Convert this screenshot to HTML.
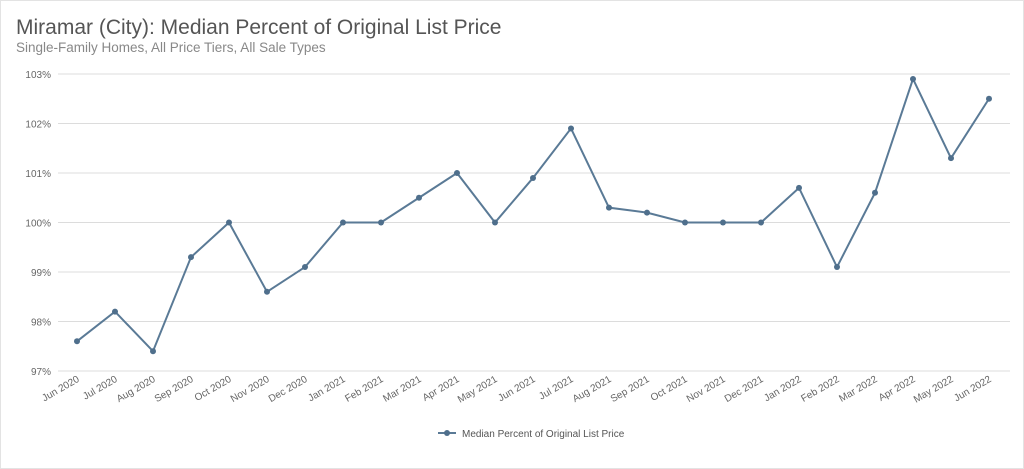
<!DOCTYPE html>
<html><head><meta charset="utf-8"><style>
body{margin:0;background:#fff;font-family:"Liberation Sans",sans-serif}
svg{display:block}
</style></head><body>
<svg id="c" width="1024" height="469">
<rect x="0.5" y="0.5" width="1023" height="468" fill="#fff" stroke="#e3e3e3"/>
<text x="16" y="34" font-size="21" fill="#555">Miramar (City): Median Percent of Original List Price</text>
<text x="16" y="52" font-size="13.5" fill="#888">Single-Family Homes, All Price Tiers, All Sale Types</text>
<g id="grid"></g><g id="xl"></g><g id="ser"></g>
<g>
<line x1="438" y1="433" x2="456" y2="433" stroke="#5a7a96" stroke-width="2"/>
<circle cx="447" cy="433" r="3" fill="#4f6f8c"/>
<text x="462" y="437" font-size="10" fill="#555">Median Percent of Original List Price</text>
</g>
</svg>
<script>
const categories=["Jun 2020","Jul 2020","Aug 2020","Sep 2020","Oct 2020","Nov 2020","Dec 2020","Jan 2021","Feb 2021","Mar 2021","Apr 2021","May 2021","Jun 2021","Jul 2021","Aug 2021","Sep 2021","Oct 2021","Nov 2021","Dec 2021","Jan 2022","Feb 2022","Mar 2022","Apr 2022","May 2022","Jun 2022"];
const values=[97.6,98.2,97.4,99.3,100.0,98.6,99.1,100.0,100.0,100.5,101.0,100.0,100.9,101.9,100.3,100.2,100.0,100.0,100.0,100.7,99.1,100.6,102.9,101.3,102.5];
const yTicks=[97,98,99,100,101,102,103];
const NS="http://www.w3.org/2000/svg";
const x=i=>77+i*38, y=v=>371-(v-97)*49.5;
function mk(t,a,p){const e=document.createElementNS(NS,t);for(const k in a)e.setAttribute(k,a[k]);p.appendChild(e);return e;}
const g=document.getElementById('grid'),xl=document.getElementById('xl'),s=document.getElementById('ser');
yTicks.forEach(v=>{
 const l=mk('line',{x1:58,x2:1010,y1:y(v),y2:y(v),stroke:'#dcdcdc','stroke-width':1},g);
 
 
 const t=mk('text',{x:51,y:y(v)+4,'text-anchor':'end','font-size':10,fill:'#666'},g);
 t.textContent=v+'%';
 
 
});
categories.forEach((c,i)=>{
 const t=mk('text',{x:x(i)+3,y:381,'text-anchor':'end','font-size':10,fill:'#666',transform:`rotate(-30 ${x(i)+3} 381)`},xl);
 t.textContent=c;
 
 
});
const p=mk('polyline',{points:values.map((v,i)=>x(i)+','+y(v)).join(' '),fill:'none',stroke:'#5a7a96','stroke-width':2},s);


values.forEach((v,i)=>{
 const c=mk('circle',{cx:x(i),cy:y(v),r:3,fill:'#4f6f8c'},s);
 
 
});
</script>
</body></html>
